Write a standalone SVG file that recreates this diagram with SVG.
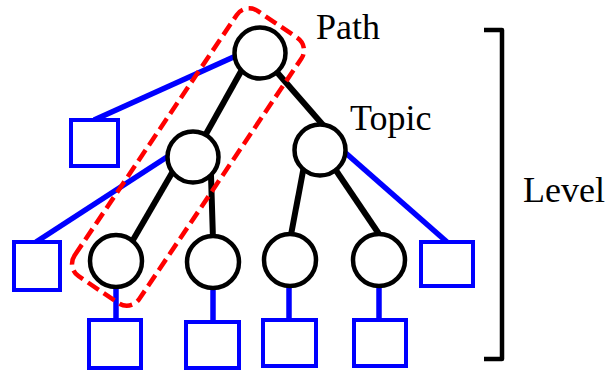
<svg xmlns="http://www.w3.org/2000/svg" width="613" height="371" viewBox="0 0 613 371">
<style>
.n{fill:#fff;stroke:#000;stroke-width:4.5}
.b{fill:#fff;stroke:#0000ff;stroke-width:4}
.k{stroke:#000;stroke-width:6;fill:none}
.bl{stroke:#0000ff;stroke-width:5.5;fill:none}
.t{font-size:36px;fill:#000}
</style>
<rect width="613" height="371" fill="#fff"/>
<g id="connectors">
<line class="bl" x1="238" y1="55" x2="94" y2="120"/>
<line class="bl" x1="170" y1="155" x2="36" y2="242"/>
<line class="bl" x1="340" y1="148" x2="447" y2="242"/>
<line class="bl" x1="116" y1="285" x2="116" y2="320"/>
<line class="bl" x1="213" y1="285" x2="213" y2="321"/>
<line class="bl" x1="289" y1="285" x2="289" y2="320"/>
<line class="bl" x1="379" y1="285" x2="379" y2="320"/>
<line class="k" x1="244" y1="66" x2="206" y2="134"/>
<line class="k" x1="275" y1="70" x2="323" y2="125"/>
<line class="k" x1="176" y1="166" x2="133" y2="240"/>
<line class="k" x1="211" y1="175" x2="213" y2="240"/>
<line class="k" x1="304" y1="166" x2="290" y2="240"/>
<line class="k" x1="333" y1="166" x2="381" y2="237"/>
</g>
<g id="root"><circle class="n" cx="260" cy="53" r="25.5"/></g>
<g id="mid-left"><circle class="n" cx="193" cy="157" r="25.5"/></g>
<g id="mid-right"><circle class="n" cx="320" cy="150" r="25.5"/></g>
<g id="leaf1"><circle class="n" cx="116" cy="261" r="26"/></g>
<g id="leaf2"><circle class="n" cx="213" cy="262" r="26"/></g>
<g id="leaf3"><circle class="n" cx="290" cy="260" r="26"/></g>
<g id="leaf4"><circle class="n" cx="379" cy="260" r="26"/></g>
<g id="sq-root"><rect class="b" x="71" y="120" width="47" height="46"/></g>
<g id="sq-midleft"><rect class="b" x="14" y="242" width="46" height="48"/></g>
<g id="sq-midright"><rect class="b" x="421" y="242" width="52" height="44"/></g>
<g id="sq-leaf1"><rect class="b" x="89" y="320" width="52" height="48"/></g>
<g id="sq-leaf2"><rect class="b" x="186" y="322" width="53" height="46"/></g>
<g id="sq-leaf3"><rect class="b" x="263" y="320" width="53" height="46"/></g>
<g id="sq-leaf4"><rect class="b" x="354" y="320" width="52" height="46"/></g>
<g id="path-highlight"><rect x="28" y="118" width="320" height="78" rx="15" ry="15" fill="none" stroke="#ff0000" stroke-width="4.5" stroke-dasharray="13 6" transform="rotate(-56 188 157)"/></g>
<g id="level-bracket"><path d="M484 30 H502 V359 H484" fill="none" stroke="#000" stroke-width="4.5" stroke-linejoin="round"/></g>
<g id="labels" font-family="'Liberation Serif', serif">
<text class="t" x="316" y="39">Path</text>
<text class="t" x="350" y="130">Topic</text>
<text class="t" x="523" y="202">Level</text>
</g>
</svg>
